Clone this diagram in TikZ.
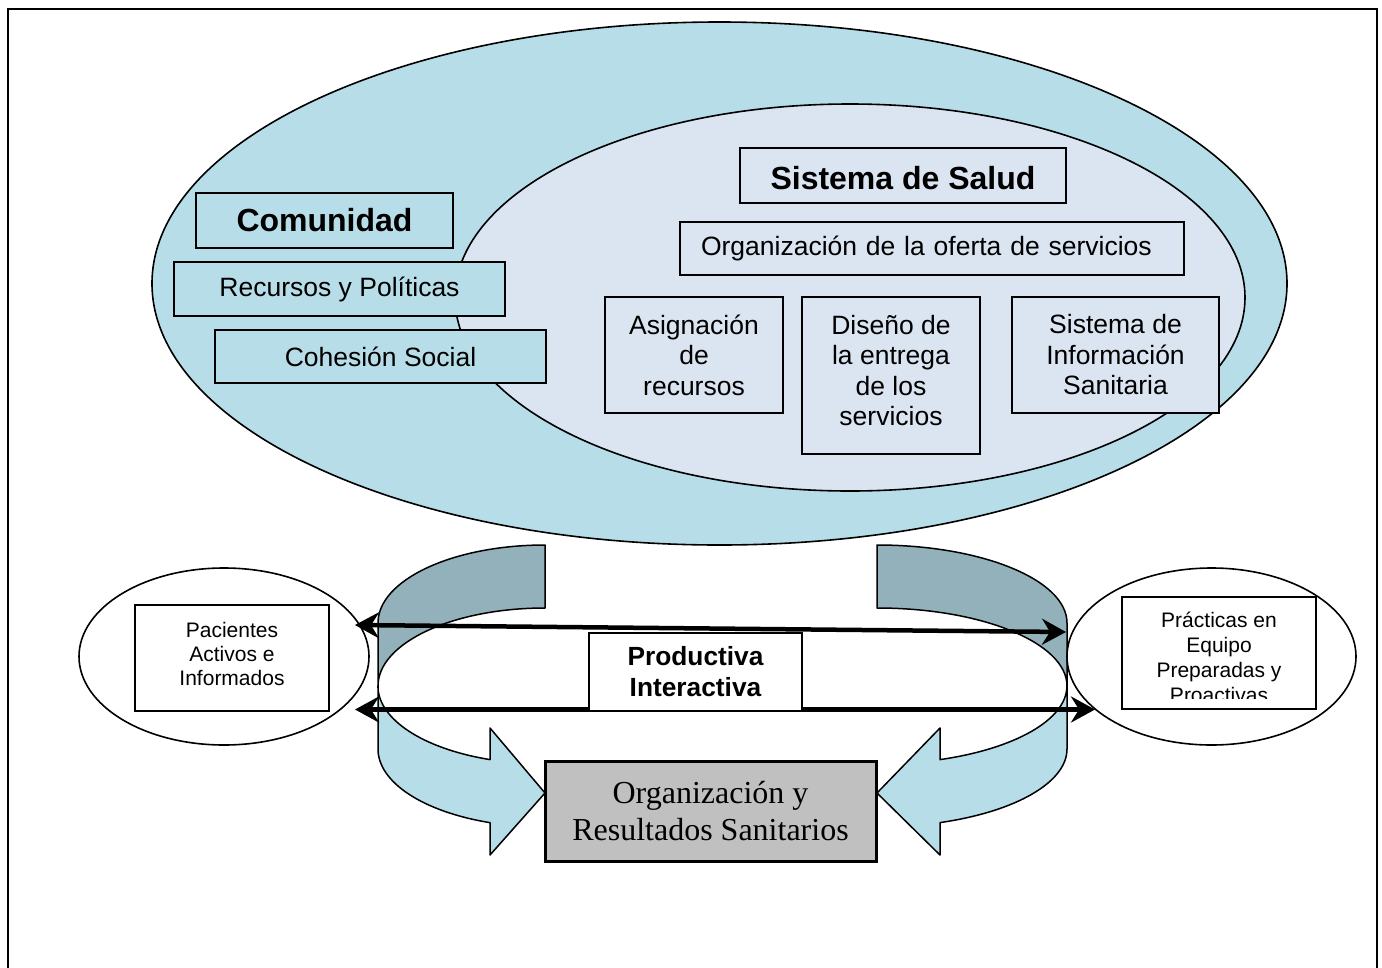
\documentclass[tikz,border=0pt]{standalone}
\usepackage{fontspec}
\setmainfont{Liberation Sans}
\newfontfamily\timesfont{Liberation Serif}
\usetikzlibrary{shapes.geometric,arrows.meta}
\definecolor{commblue}{HTML}{B7DEE8}
\definecolor{syslav}{HTML}{DBE5F1}
\definecolor{backteal}{HTML}{93B1BA}
\definecolor{outgray}{HTML}{C0C0C0}

\begin{document}
\begin{tikzpicture}[x=1pt,y=-1pt,
  box/.style={draw=black, line width=1.6pt, rectangle, inner sep=0pt, align=center},
  txt/.style={font=\fontsize{26.5}{30.5}\selectfont},
  head/.style={font=\bfseries\fontsize{32}{36}\selectfont},
  small/.style={font=\fontsize{21}{24}\selectfont, align=center, inner sep=0pt},
  band/.style={draw=black, line width=1.5pt, line join=round},
  tip/.tip={Stealth[length=24pt,width=26pt,inset=8pt]},
  link/.style={line width=4.5pt, tip-tip},
  oval/.style={ellipse, draw=black, line width=1.6pt, inner sep=0pt},
]
\useasboundingbox (0,0) rectangle (1382,967);
\fill[white] (0,0) rectangle (1382,967);
% page frame, open at the bottom
\draw[line width=1.5pt] (8,968) -- (8,9) -- (1377,9) -- (1377,968);

% community and health-system ellipses
\node[oval, fill=commblue, minimum width=1135pt, minimum height=523pt] (comm) at (719.5,283.5) {};
\node[oval, fill=syslav, minimum width=790pt, minimum height=387pt] (sys) at (850,297.5) {};

% community boxes
\node[box, head, fill=commblue, minimum width=257pt, minimum height=55pt] (comu) at (324.5,220.5) {Comunidad};
\node[box, txt, fill=commblue, minimum width=331pt, minimum height=54pt] (recu) at (339.5,289) {Recursos y Políticas};
\node[box, txt, fill=commblue, minimum width=331pt, minimum height=53pt] (cohe) at (380.5,356.5) {Cohesión Social};

% health-system boxes
\node[box, head, fill=syslav, minimum width=326pt, minimum height=55pt] (salud) at (903,175.5) {};
\node[head, inner sep=0pt] (saludtext) at (903,178) {Sistema de Salud};
\node[box, txt, fill=syslav, text width=462pt, inner xsep=21pt, align=left, minimum height=53pt] (oferta) at (932,248.5) {Organización de la oferta de servicios};
\node[box, txt, fill=syslav, minimum width=178pt, minimum height=116pt] (asig) at (694,355) {Asignación\\de\\recursos};
\node[box, fill=syslav, minimum width=178pt, minimum height=157pt] (dise) at (891,375.5) {};
\node[txt, align=center, inner sep=0pt] (disetext) at (891,370.5) {Diseño de\\la entrega\\de los\\servicios};
\node[box, txt, fill=syslav, minimum width=207pt, minimum height=116pt] (sis) at (1115.5,355) {Sistema de\\Información\\Sanitaria};

% left curved block arrow: back part, then front part with head
\path[band, fill=backteal] (545,545) arc[start angle=90, end angle=180, x radius=167pt, y radius=78pt]
  -- (378,686) arc[start angle=180, end angle=90, x radius=167pt, y radius=78pt] -- cycle;
\path[band, fill=commblue] (378,686) -- (378,749)
  arc[start angle=180, end angle=250.8, x radius=167pt, y radius=78pt]
  -- (490,855) -- (545,793) -- (490,728) -- (490,759.6)
  arc[start angle=250.8, end angle=180, x radius=167pt, y radius=78pt] -- cycle;

% right curved block arrow
\path[band, fill=backteal] (877,545) arc[start angle=90, end angle=0, x radius=190pt, y radius=78pt]
  -- (1067,686) arc[start angle=0, end angle=90, x radius=190pt, y radius=78pt] -- cycle;
\path[band, fill=commblue] (1067,686) -- (1067,749)
  arc[start angle=0, end angle=-70.6, x radius=190pt, y radius=78pt]
  -- (940,855) -- (877,793) -- (940,728) -- (940,759.6)
  arc[start angle=-70.6, end angle=0, x radius=190pt, y radius=78pt] -- cycle;

% patients and practice teams
\node[oval, minimum width=290pt, minimum height=177pt] (pacE) at (224,656.5) {};
\node[oval, minimum width=289pt, minimum height=177pt] (praE) at (1211.5,656.5) {};
\node[box, fill=white, minimum width=194pt, minimum height=106pt] (pac) at (232,658) {};
\node[small] (pactext) at (232,653.5) {Pacientes\\Activos e\\Informados};
\node[box, fill=white, minimum width=194pt, minimum height=112pt] (pra) at (1219,653) {};
\begin{scope}
  \clip (1123,598) rectangle (1315,698);
  \node[small, font=\fontsize{21}{25}\selectfont] (pratext) at (1219,657) {Prácticas en\\Equipo\\Preparadas y\\Proactivas};
\end{scope}

% interaction arrows
\coordinate (l1) at (355,625);
\coordinate (r1) at (1066,632);
\coordinate (l2) at (355,709.5);
\coordinate (r2) at (1095,709.5);
\draw[link] (l1) -- (r1);
\draw[link] (l2) -- (r2);

% interaction label and outcomes
\node[box, fill=white, font=\bfseries\fontsize{26.3}{31}\selectfont, minimum width=213pt, minimum height=78pt] (prod) at (695.5,672) {Productiva\\Interactiva};
\node[box, line width=3pt, fill=outgray, font=\timesfont\fontsize{32}{36.5}\selectfont, minimum width=331pt, minimum height=100pt] (org) at (710.5,811) {Organización y\\Resultados Sanitarios};
\end{tikzpicture}
\end{document}
